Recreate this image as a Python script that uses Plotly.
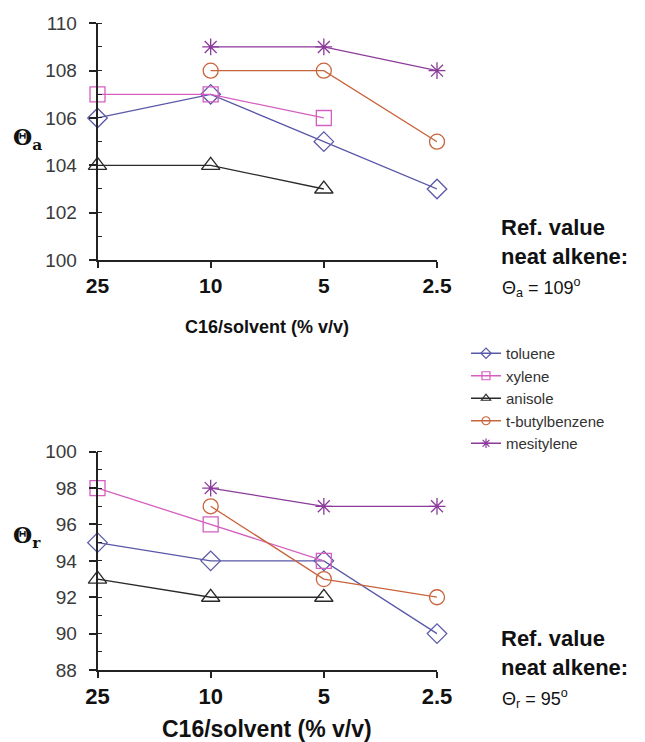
import plotly.graph_objects as go

categories = ["25", "10", "5", "2.5"]
series_names = ["toluene", "xylene", "anisole", "t-butylbenzene", "mesitylene"]

theta_a = {
    "toluene": [106, 107, 105, 103],
    "xylene": [107, 107, 106, None],
    "anisole": [104, 104, 103, None],
    "t-butylbenzene": [None, 108, 108, 105],
    "mesitylene": [None, 109, 109, 108],
}
theta_r = {
    "toluene": [95, 94, 94, 90],
    "xylene": [98, 96, 94, None],
    "anisole": [93, 92, 92, None],
    "t-butylbenzene": [None, 97, 93, 92],
    "mesitylene": [None, 98, 97, 97],
}

colors = {
    "toluene": "#5a58a8",
    "xylene": "#d45fbf",
    "anisole": "#2a2a2a",
    "t-butylbenzene": "#c8643c",
    "mesitylene": "#8b3a9a",
}
symbols = {
    "toluene": "diamond-open",
    "xylene": "square-open",
    "anisole": "triangle-up-open",
    "t-butylbenzene": "circle-open",
    "mesitylene": "asterisk-open",
}
sizes = {"toluene": 15, "xylene": 15, "anisole": 16, "t-butylbenzene": 15, "mesitylene": 14}

FONT = "Liberation Sans, Arial"

fig = go.Figure()
for name in series_names:
    fig.add_trace(go.Scatter(
        x=categories, y=theta_a[name], name=name, mode="lines+markers",
        line=dict(color=colors[name], width=1.3),
        marker=dict(symbol=symbols[name], size=sizes[name], color=colors[name],
                    line=dict(width=1.3, color=colors[name])),
        xaxis="x", yaxis="y", cliponaxis=False, legendgroup=name, showlegend=False,
    ))
for name in series_names:
    fig.add_trace(go.Scatter(
        x=categories, y=theta_r[name], name=name, mode="lines+markers",
        line=dict(color=colors[name], width=1.3),
        marker=dict(symbol=symbols[name], size=sizes[name], color=colors[name],
                    line=dict(width=1.3, color=colors[name])),
        xaxis="x2", yaxis="y2", cliponaxis=False, legendgroup=name, showlegend=False,
    ))
# legend entries (small symbols as in the reference legend)
for name in series_names:
    fig.add_trace(go.Scatter(
        x=[None], y=[None], name=name, mode="lines+markers",
        line=dict(color=colors[name], width=1.5),
        marker=dict(symbol=symbols[name], size=8, color=colors[name],
                    line=dict(width=1.2, color=colors[name])),
        xaxis="x", yaxis="y", legendgroup=name, showlegend=True,
    ))

W, H = 645, 742
x0, x1 = 97.5 / W, 437 / W

xcommon = dict(
    type="category", range=[0, 3], showline=True, linecolor="#222", linewidth=1.5,
    ticks="outside", ticklen=6, tickcolor="#222", tickwidth=1.5,
    showgrid=False, zeroline=False, domain=[x0, x1],
)
ycommon = dict(
    showline=True, linecolor="#222", linewidth=1.5, ticks="outside", ticklen=7,
    tickcolor="#222", tickwidth=1.5, dtick=2, ticklabelstandoff=8,
    tickfont=dict(family=FONT, size=19, color="#3a3a3a"),
    showgrid=False, zeroline=False,
    minor=dict(dtick=1, ticks="inside", ticklen=5, tickcolor="#222", tickwidth=1.2),
)
# inner halves of the major ticks (major ticks cross the axis line in the reference)
yinner = dict(
    showline=False, ticks="inside", ticklen=7, tickcolor="#222", tickwidth=1.5, dtick=2,
    showticklabels=False, showgrid=False, zeroline=False,
)

fig.update_layout(
    width=W, height=H, margin=dict(l=0, r=0, t=0, b=0, autoexpand=False),
    plot_bgcolor="white", paper_bgcolor="white",
    xaxis=dict(**xcommon, anchor="y",
               tickfont=dict(family=FONT, size=21, color="#111", weight="bold")),
    yaxis=dict(**ycommon, range=[100, 110], domain=[1 - 260 / H, 1 - 23.3 / H], anchor="x"),
    yaxis3=dict(**yinner, range=[100, 110], overlaying="y", anchor="x", side="left"),
    xaxis2=dict(**xcommon, anchor="y2",
                tickfont=dict(family=FONT, size=22, color="#111", weight="bold")),
    yaxis2=dict(**ycommon, range=[88, 100], domain=[1 - 670 / H, 1 - 451.7 / H], anchor="x2"),
    yaxis4=dict(**yinner, range=[88, 100], overlaying="y2", anchor="x2", side="left"),
    legend=dict(x=466 / W, y=1 - 337 / H, xanchor="left", yanchor="top",
                font=dict(family=FONT, size=15, color="#333"),
                bgcolor="rgba(0,0,0,0)", tracegroupgap=0, itemwidth=30),
    showlegend=True,
)


def note(x, y, text, size, bold=False, family=FONT, xanchor="left", align="left"):
    return dict(x=x / W, y=1 - y / H, xref="paper", yref="paper", showarrow=False,
                xanchor=xanchor, yanchor="middle", align=align, text=text,
                font=dict(family=family, size=size, color="#111",
                          weight="bold" if bold else "normal"))


ann = [
    note((97.5 + 437) / 2, 327, "C16/solvent (% v/v)", 18, bold=True, xanchor="center", align="center"),
    note((97.5 + 437) / 2, 729, "C16/solvent (% v/v)", 23, bold=True, xanchor="center", align="center"),
    note(27, 139, "<b>Θ<sub>a</sub></b>", 22, family="DejaVu Serif", xanchor="center"),
    note(27, 537, "<b>Θ<sub>r</sub></b>", 22, family="DejaVu Serif", xanchor="center"),
    note(499, 242, "Ref. value<br>neat alkene:", 22, bold=True),
    note(500, 287, "Θ<sub>a</sub> = 109<sup>o</sup>", 18),
    note(499, 653, "Ref. value<br>neat alkene:", 22, bold=True),
    note(500, 698, "Θ<sub>r</sub> = 95<sup>o</sup>", 18),
]
fig.update_layout(annotations=ann)

fig.write_html("out.html")
